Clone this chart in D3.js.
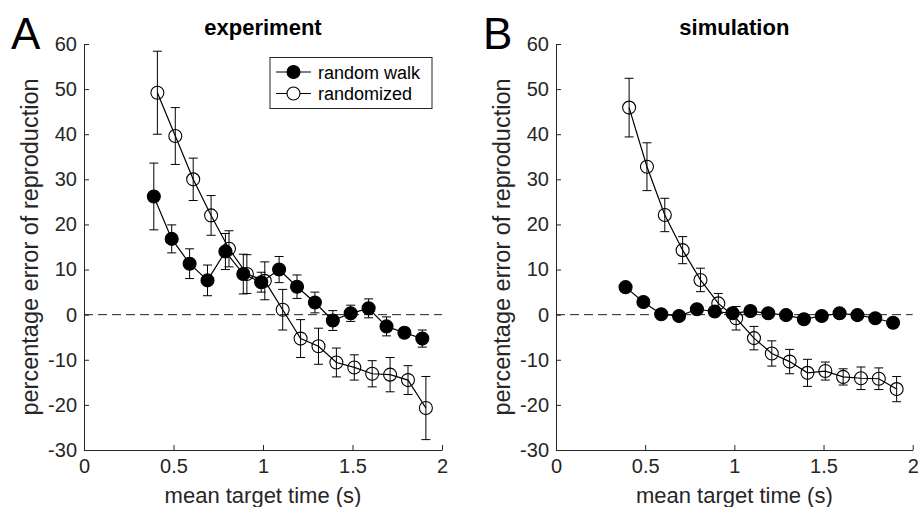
<!DOCTYPE html>
<html>
<head>
<meta charset="utf-8">
<script src="https://cdn.jsdelivr.net/npm/d3@7"></script>
<style>
  body { margin: 0; background: #fff; }
</style>
</head>
<body>
<div class="container"></div>
<script>
// ---- data ----
const timeTicks = [0, 0.5, 1, 1.5, 2];
const errTicks = [-30, -20, -10, 0, 10, 20, 30, 40, 50, 60];
const seriesNames = ["random walk", "randomized"];
const panelTitles = ["experiment", "simulation"];
const panelLetters = ["A", "B"];

// filled markers (random walk)
const walkTime = [0.39, 0.49, 0.59, 0.69, 0.79, 0.89, 0.99, 1.09, 1.19, 1.29, 1.39, 1.49, 1.59, 1.69, 1.79, 1.89];
// open markers (randomized)
const randTime = [0.41, 0.51, 0.61, 0.71, 0.81, 0.91, 1.01, 1.11, 1.21, 1.31, 1.41, 1.51, 1.61, 1.71, 1.81, 1.91];

const expWalkErr = [26.2, 16.8, 11.3, 7.6, 14.0, 9.0, 7.2, 10.0, 6.2, 2.7, -1.3, 0.3, 1.4, -2.6, -4.0, -5.3];
const expWalkSem = [7.4, 3.1, 3.3, 3.4, 4.0, 4.4, 2.2, 2.9, 2.6, 2.3, 2.2, 1.8, 2.1, 2.1, 1.0, 1.9];
const expRandErr = [49.2, 39.6, 30.0, 22.0, 14.6, 9.0, 7.5, 1.1, -5.3, -7.0, -10.6, -11.7, -13.1, -13.3, -14.5, -20.7];
const expRandSem = [9.2, 6.3, 4.7, 4.4, 4.0, 4.3, 4.2, 4.5, 4.2, 4.0, 3.2, 2.8, 2.9, 3.8, 3.2, 7.0];

const simWalkErr = [6.1, 2.8, 0.1, -0.3, 1.2, 0.7, 0.3, 0.8, 0.3, -0.1, -1.0, -0.3, 0.3, -0.1, -0.8, -1.8];
const simWalkSem = [0.9, 0.8, 0.7, 0.7, 0.7, 0.6, 0.6, 0.6, 0.6, 0.6, 0.6, 0.6, 0.6, 0.6, 0.6, 0.6];
const simRandErr = [45.9, 32.8, 22.1, 14.3, 7.7, 2.5, -0.8, -5.2, -8.6, -10.4, -12.9, -12.5, -13.8, -14.1, -14.2, -16.5];
const simRandSem = [6.5, 5.3, 3.7, 3.0, 2.6, 2.2, 2.6, 2.6, 2.8, 2.7, 3.0, 2.0, 1.8, 2.5, 2.4, 2.8];

const width = 919;
const height = 507;
const font = "'Liberation Sans', Arial, Helvetica, sans-serif";
const axisColor = "#262626";

const svg = d3
  .create("svg")
  .attr("width", width)
  .attr("height", height)
  .attr("viewBox", [0, 0, width, height])
  .style("display", "block")
  .style("font-family", font);

const y = d3.scaleLinear().domain([-30, 60]).range([450, 44]);

function toPoints(times, vals, sems) {
  return times.map((t, i) => ({ t: t, v: vals[i], s: sems[i] }));
}

function drawPanel(idx, x0, x1, walk, rand, showLegend) {
  const x = d3.scaleLinear().domain([0, 2]).range([x0, x1]);
  const g = svg.append("g");

  // y axis (plain hyphen for negatives, like the original)
  g.append("g")
    .attr("transform", `translate(${x0},0)`)
    .call(d3.axisLeft(y).tickValues(errTicks).tickFormat((d) => String(d)).tickSizeInner(-5).tickSizeOuter(0).tickPadding(7))
    .call((a) => a.attr("font-family", font).attr("font-size", 20))
    .call((a) => a.select(".domain").attr("stroke", axisColor))
    .call((a) => a.selectAll(".tick line").attr("stroke", axisColor))
    .call((a) => a.selectAll(".tick text").attr("fill", axisColor));

  // x axis
  g.append("g")
    .attr("transform", `translate(0,${y(-30)})`)
    .call(d3.axisBottom(x).tickValues(timeTicks).tickFormat((d) => String(d)).tickSizeInner(-5).tickSizeOuter(0).tickPadding(9))
    .call((a) => a.attr("font-family", font).attr("font-size", 20))
    .call((a) => a.select(".domain").attr("stroke", axisColor))
    .call((a) => a.selectAll(".tick line").attr("stroke", axisColor))
    .call((a) => a.selectAll(".tick text").attr("fill", axisColor));

  // zero reference
  g.append("line")
    .attr("x1", x(0))
    .attr("x2", x(2))
    .attr("y1", y(0))
    .attr("y2", y(0))
    .attr("stroke", "#222")
    .attr("stroke-width", 1)
    .attr("stroke-dasharray", "9,5");

  const line = d3
    .line()
    .x((d) => x(d.t))
    .y((d) => y(d.v));

  const series = [
    { pts: walk, fill: "#000" },
    { pts: rand, fill: "none" },
  ];

  series.forEach((s) => {
    const sg = g.append("g");
    // error bars
    const eb = sg.append("g").attr("stroke", "#000").attr("stroke-width", 1);
    eb.selectAll("line.v")
      .data(s.pts)
      .join("line")
      .attr("class", "v")
      .attr("x1", (d) => x(d.t))
      .attr("x2", (d) => x(d.t))
      .attr("y1", (d) => y(d.v - d.s))
      .attr("y2", (d) => y(d.v + d.s));
    eb.selectAll("line.top")
      .data(s.pts)
      .join("line")
      .attr("class", "top")
      .attr("x1", (d) => x(d.t) - 4.5)
      .attr("x2", (d) => x(d.t) + 4.5)
      .attr("y1", (d) => y(d.v + d.s))
      .attr("y2", (d) => y(d.v + d.s));
    eb.selectAll("line.bot")
      .data(s.pts)
      .join("line")
      .attr("class", "bot")
      .attr("x1", (d) => x(d.t) - 4.5)
      .attr("x2", (d) => x(d.t) + 4.5)
      .attr("y1", (d) => y(d.v - d.s))
      .attr("y2", (d) => y(d.v - d.s));

    sg.append("path")
      .datum(s.pts)
      .attr("d", line)
      .attr("fill", "none")
      .attr("stroke", "#000")
      .attr("stroke-width", 1.2);

    sg.selectAll("circle")
      .data(s.pts)
      .join("circle")
      .attr("cx", (d) => x(d.t))
      .attr("cy", (d) => y(d.v))
      .attr("r", 6.5)
      .attr("fill", s.fill)
      .attr("stroke", "#000")
      .attr("stroke-width", 1.1);
  });

  // title
  g.append("text")
    .attr("x", (x0 + x1) / 2)
    .attr("y", 35)
    .attr("text-anchor", "middle")
    .attr("font-size", 22)
    .attr("font-weight", "bold")
    .attr("fill", "#000")
    .text(panelTitles[idx]);

  // panel letter
  g.append("text")
    .attr("x", x0 - 73)
    .attr("y", 49)
    .attr("font-size", 44)
    .attr("fill", "#000")
    .text(panelLetters[idx]);

  // axis labels
  g.append("text")
    .attr("x", (x0 + x1) / 2)
    .attr("y", 503)
    .attr("text-anchor", "middle")
    .attr("font-size", 22)
    .attr("fill", axisColor)
    .text("mean target time (s)");

  g.append("text")
    .attr("transform", `translate(${x0 - 46},${(y(60) + y(-30)) / 2}) rotate(-90)`)
    .attr("text-anchor", "middle")
    .attr("font-size", 23.5)
    .attr("fill", axisColor)
    .text("percentage error of reproduction");

  if (showLegend) {
    const lg = g.append("g");
    lg.append("rect")
      .attr("x", 270)
      .attr("y", 57.5)
      .attr("width", 162)
      .attr("height", 51)
      .attr("fill", "#fff")
      .attr("stroke", axisColor)
      .attr("stroke-width", 1);
    const rows = lg
      .selectAll("g.row")
      .data(seriesNames)
      .join("g")
      .attr("class", "row")
      .attr("transform", (d, i) => `translate(0,${72 + i * 21.5})`);
    rows.append("line")
      .attr("x1", 276)
      .attr("x2", 311)
      .attr("stroke", "#000")
      .attr("stroke-width", 1.2);
    rows.append("circle")
      .attr("cx", 293.5)
      .attr("r", 6.5)
      .attr("fill", (d, i) => (i === 0 ? "#000" : "#fff"))
      .attr("stroke", "#000")
      .attr("stroke-width", 1.1);
    rows.append("text")
      .attr("x", 318)
      .attr("y", 6.5)
      .attr("font-size", 18)
      .attr("fill", "#000")
      .text((d) => d);
  }
}

drawPanel(0, 84, 442, toPoints(walkTime, expWalkErr, expWalkSem), toPoints(randTime, expRandErr, expRandSem), true);
drawPanel(1, 556, 912.7, toPoints(walkTime, simWalkErr, simWalkSem), toPoints(randTime, simRandErr, simRandSem), false);

document.querySelector(".container").append(svg.node());
</script>
</body>
</html>
